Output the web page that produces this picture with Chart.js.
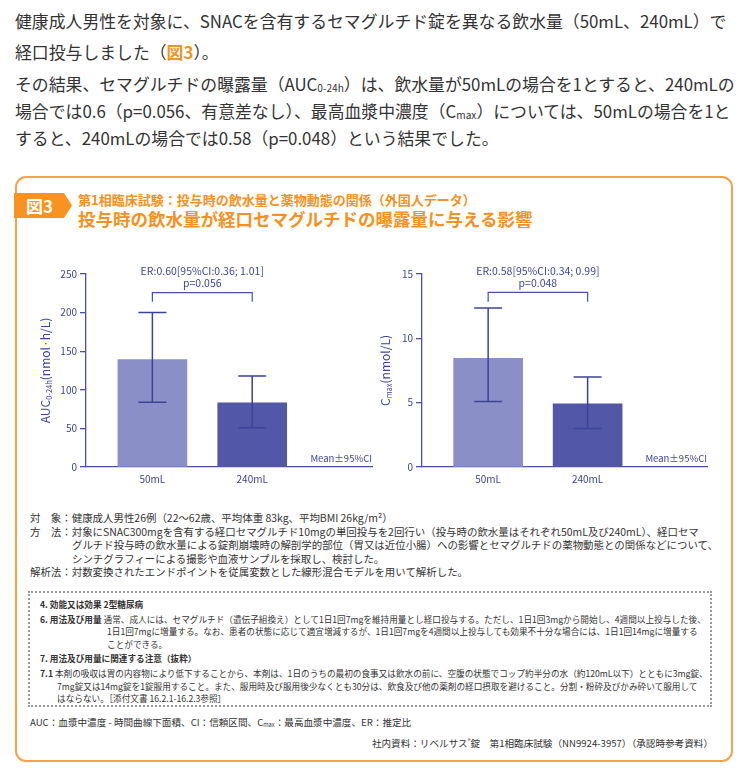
<!DOCTYPE html>
<html lang="ja">
<head>
<meta charset="utf-8">
<script src="https://cdn.jsdelivr.net/npm/chart.js@4.4.0/dist/chart.umd.min.js"></script>
<style>
  body { margin: 0; width: 740px; height: 768px; background: #fff; position: relative; overflow: hidden;
         font-family: "Noto Sans CJK JP", sans-serif; color: #333; }
  .lead { position: absolute; left: 15px; margin: 0; font-size: 16.85px; white-space: nowrap; }
  .lead b { color: #f39222; }
  .frame { position: absolute; left: 15px; top: 176px; width: 718px; height: 586px; box-sizing: border-box;
           border: 2px solid #f8a14a; border-radius: 11px; }
  .tag { position: absolute; left: 14px; top: 193px; width: 58px; height: 25px; background: #f7931e;
         clip-path: polygon(0 0, 50px 0, 58px 50%, 50px 100%, 0 100%);
         color: #fff; font-weight: bold; font-size: 17px; line-height: 25px; text-indent: 12px; }
  .sub { position: absolute; left: 78px; top: 190px; font-size: 13px; font-weight: bold; color: #f39222; white-space: nowrap; }
  .title { position: absolute; left: 78px; top: 206px; font-size: 17.5px; font-weight: bold; color: #f39222; white-space: nowrap; }
  canvas { position: absolute; }
  .notes { position: absolute; left: 30px; top: 511px; font-size: 10.45px; line-height: 13.6px; white-space: nowrap; }
  .notes .in { padding-left: 42px; }
  .box { position: absolute; left: 28px; top: 591px; width: 684px; height: 116px; box-sizing: border-box;
         border: 2px dotted #9a9a9a; padding: 5px 0 0 10px; font-size: 8.65px; line-height: 12.6px; white-space: nowrap; }
  .box .in { padding-left: 67px; }
  .box .in2 { padding-left: 17px; }
  .box .gap { margin-top: 2px; }
  .abbr { position: absolute; left: 30px; top: 715px; font-size: 9.6px; white-space: nowrap; }
  .src { position: absolute; right: 27px; top: 736px; font-size: 9.6px; white-space: nowrap; }
  sub { font-size: 60%; vertical-align: -1px; line-height: 0; }
</style>
</head>
<body>

<p class="lead" style="top:4.5px; line-height:31px">健康成人男性を対象に、SNACを含有するセマグルチド錠を異なる飲水量（50mL、240mL）で<br>経口投与しました（<b>図3</b>）。</p>
<p class="lead" style="top:69.5px; line-height:27px">その結果、セマグルチドの曝露量（AUC<sub>0-24h</sub>）は、飲水量が50mLの場合を1とすると、240mLの<br>場合では0.6（p=0.056、有意差なし）、最高血漿中濃度（C<sub>max</sub>）については、50mLの場合を1と<br>すると、240mLの場合では0.58（p=0.048）という結果でした。</p>

<div class="frame"></div>
<div class="tag">図3</div>
<div class="sub">第1相臨床試験：投与時の飲水量と薬物動態の関係（外国人データ）</div>
<div class="title">投与時の飲水量が経口セマグルチドの曝露量に与える影響</div>

<canvas id="aucChart" width="345" height="240" style="left:30px; top:255px"></canvas>
<canvas id="cmaxChart" width="345" height="240" style="left:370px; top:255px"></canvas>

<div class="notes">
  <div>対　象：健康成人男性26例（22～62歳、平均体重 83kg、平均BMI 26kg/m²）</div>
  <div>方　法：対象にSNAC300mgを含有する経口セマグルチド10mgの単回投与を2回行い（投与時の飲水量はそれぞれ50mL及び240mL）、経口セマ</div>
  <div class="in">グルチド投与時の飲水量による錠剤崩壊時の解剖学的部位（胃又は近位小腸）への影響とセマグルチドの薬物動態との関係などについて、</div>
  <div class="in">シンチグラフィーによる撮影や血液サンプルを採取し、検討した。</div>
  <div>解析法：対数変換されたエンドポイントを従属変数とした線形混合モデルを用いて解析した。</div>
</div>

<div class="box">
  <div><b>4. 効能又は効果 2型糖尿病</b></div>
  <div class="gap"><b>6. 用法及び用量</b> 通常、成人には、セマグルチド（遺伝子組換え）として1日1回7mgを維持用量とし経口投与する。ただし、1日1回3mgから開始し、4週間以上投与した後、</div>
  <div class="in">1日1回7mgに増量する。なお、患者の状態に応じて適宜増減するが、1日1回7mgを4週間以上投与しても効果不十分な場合には、1日1回14mgに増量する</div>
  <div class="in">ことができる。</div>
  <div class="gap"><b>7. 用法及び用量に関連する注意（抜粋）</b></div>
  <div class="gap"><b>7.1</b> 本剤の吸収は胃の内容物により低下することから、本剤は、1日のうちの最初の食事又は飲水の前に、空腹の状態でコップ約半分の水（約120mL以下）とともに3mg錠、</div>
  <div class="in2">7mg錠又は14mg錠を1錠服用すること。また、服用時及び服用後少なくとも30分は、飲食及び他の薬剤の経口摂取を避けること。分割・粉砕及びかみ砕いて服用して</div>
  <div class="in2">はならない。［添付文書 16.2.1-16.2.3参照］</div>
</div>

<div class="abbr">AUC：血漿中濃度 - 時間曲線下面積、CI：信頼区間、C<sub>max</sub>：最高血漿中濃度、ER：推定比</div>
<div class="src">社内資料：リベルサス<sup style="font-size:60%">®</sup>錠　第1相臨床試験（NN9924-3957）（承認時参考資料）</div>

<script>
// values
const doseLabels = ['50mL', '240mL'];

const aucMean  = [139, 83];
const aucLower = [84, 51];
const aucUpper = [200, 118];
const aucTicks = [0, 50, 100, 150, 200, 250];
const aucNote  = ['ER:0.60[95%CI:0.36; 1.01]', 'p=0.056'];

const cmaxMean  = [8.45, 4.9];
const cmaxLower = [5.1, 3.0];
const cmaxUpper = [12.35, 7.0];
const cmaxTicks = [0, 5, 10, 15];
const cmaxNote  = ['ER:0.58[95%CI:0.34; 0.99]', 'p=0.048'];

const barColors = ['#8b8fc7', '#5257a7'];
const axisColor = '#4a4fa8';
const errColor  = '#3d4399';
const fontName  = '"Noto Sans CJK JP", sans-serif';

// error bars, comparison bracket, notes and the axis title
const extrasPlugin = {
  id: 'extras',
  afterDatasetsDraw(chart, args, opts) {
    const ctx = chart.ctx;
    const xs = chart.scales.x;
    const ys = chart.scales.y;
    const area = chart.chartArea;
    ctx.save();

    // error bars
    ctx.strokeStyle = errColor;
    ctx.lineWidth = 1.5;
    for (let i = 0; i < opts.lower.length; i++) {
      const x = xs.getPixelForValue(i + 1);
      const lo = ys.getPixelForValue(opts.lower[i]);
      const hi = ys.getPixelForValue(opts.upper[i]);
      ctx.beginPath();
      ctx.moveTo(x, lo); ctx.lineTo(x, hi);
      ctx.moveTo(x - 14, lo); ctx.lineTo(x + 14, lo);
      ctx.moveTo(x - 14, hi); ctx.lineTo(x + 14, hi);
      ctx.stroke();
    }

    // bracket between the two groups
    const x1 = xs.getPixelForValue(1);
    const x2 = xs.getPixelForValue(2);
    const top = ys.getPixelForValue(opts.bracket[0]);
    const foot = ys.getPixelForValue(opts.bracket[1]);
    ctx.strokeStyle = axisColor;
    ctx.lineWidth = 1.2;
    ctx.beginPath();
    ctx.moveTo(x1, foot); ctx.lineTo(x1, top); ctx.lineTo(x2, top); ctx.lineTo(x2, foot);
    ctx.stroke();

    ctx.fillStyle = '#3f449c';
    ctx.font = '10.5px ' + fontName;
    ctx.textAlign = 'center';
    ctx.textBaseline = 'middle';
    const mid = (x1 + x2) / 2;
    ctx.fillText(opts.note[0], mid, top - 21.5);
    ctx.fillText(opts.note[1], mid, top - 9.5);

    ctx.font = '9.5px ' + fontName;
    ctx.textAlign = 'right';
    ctx.fillText('Mean±95%CI', area.right, area.bottom - 9);

    // rotated y title with a subscript part
    const parts = opts.title;
    let total = 0;
    parts.forEach(p => { ctx.font = p.size + 'px ' + fontName; p.w = ctx.measureText(p.t).width; total += p.w; });
    ctx.translate(15, (area.top + area.bottom) / 2);
    ctx.rotate(-Math.PI / 2);
    ctx.textAlign = 'left';
    ctx.textBaseline = 'alphabetic';
    let pos = -total / 2;
    parts.forEach(p => {
      ctx.font = p.size + 'px ' + fontName;
      ctx.fillText(p.t, pos, p.sub ? 7 : 4.5);
      pos += p.w;
    });
    ctx.restore();
  }
};

function makeChart(canvasId, means, lower, upper, ticks, yMax, note, bracket, title, yAxisWidth, padRight)
{
  const ctx = document.getElementById(canvasId).getContext('2d');
  return new Chart(ctx, {
    type: 'bar',
    data: {
      datasets: [{
        data: means.map((v, i) => ({ x: i + 1, y: v })),
        backgroundColor: barColors,
        borderWidth: 0,
        barThickness: 69
      }]
    },
    options: {
      responsive: false,
      animation: false,
      layout: { padding: { top: 19, right: padRight, left: 0, bottom: 0 } },
      plugins: {
        legend: { display: false },
        tooltip: { enabled: false },
        extras: { lower: lower, upper: upper, note: note, bracket: bracket, title: title }
      },
      scales: {
        x: {
          type: 'linear',
          offset: false,
          min: 0.335,
          max: 3.2,
          afterBuildTicks: s => { s.ticks = doseLabels.map((l, i) => ({ value: i + 1 })); },
          afterFit: s => { s.height = 28; },
          ticks: {
            callback: v => doseLabels[v - 1],
            color: '#3f449c',
            font: { family: fontName, size: 10 },
            padding: 6,
            maxRotation: 0
          },
          grid: { display: true, offset: false, drawOnChartArea: false, drawTicks: false, tickLength: 0 },
          border: { color: axisColor, width: 1.3 }
        },
        y: {
          min: 0,
          max: yMax,
          afterBuildTicks: s => { s.ticks = ticks.map(v => ({ value: v })); },
          afterFit: s => { s.width = yAxisWidth; },
          ticks: {
            color: '#3f449c',
            font: { family: fontName, size: 10 },
            padding: 3
          },
          grid: { display: true, drawOnChartArea: false, drawTicks: true, tickLength: 6, color: axisColor, lineWidth: 1.3 },
          border: { color: axisColor, width: 1.3 }
        }
      }
    },
    plugins: [extrasPlugin]
  });
}

makeChart('aucChart', aucMean, aucLower, aucUpper, aucTicks, 250, aucNote, [226, 214],
  [{ t: 'AUC', size: 12 }, { t: '0-24h', size: 7.5, sub: true }, { t: '(nmol·h/L)', size: 12 }], 56, 3);

makeChart('cmaxChart', cmaxMean, cmaxLower, cmaxUpper, cmaxTicks, 15, cmaxNote, [13.57, 12.84],
  [{ t: 'C', size: 12 }, { t: 'max', size: 7.5, sub: true }, { t: '(nmol/L)', size: 12 }], 52, 8);
</script>
</body>
</html>
